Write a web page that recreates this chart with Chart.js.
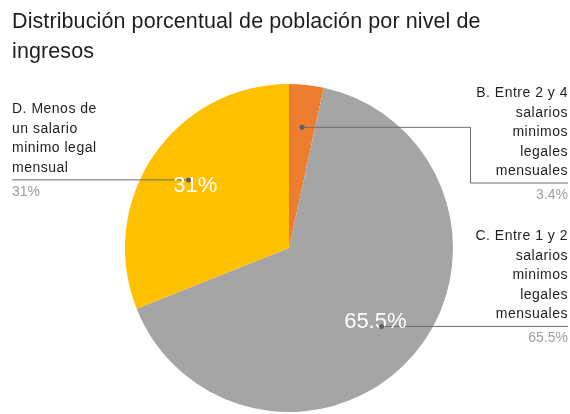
<!DOCTYPE html>
<html>
<head>
<meta charset="utf-8">
<script src="https://cdn.jsdelivr.net/npm/chart.js@4.4.1/dist/chart.umd.min.js"></script>
<style>
  html, body { margin: 0; padding: 0; background: #fff; }
  #wrap { width: 570px; height: 414px; }
</style>
</head>
<body>
<div id="wrap"><canvas id="myChart" width="570" height="414"></canvas></div>
<script>
const titleLines = ['Distribución porcentual de población por nivel de', 'ingresos'];
const categories = [
  ['B. Entre 2 y 4', 'salarios', 'minimos', 'legales', 'mensuales'],
  ['C. Entre 1 y 2', 'salarios', 'minimos', 'legales', 'mensuales'],
  ['D. Menos de', 'un salario', 'minimo legal', 'mensual']
];
const values = [3.4, 65.5, 31];
const valueLabels = ['3.4%', '65.5%', '31%'];
const colors = ['rgb(237, 125, 49)', 'rgb(165, 165, 165)', 'rgb(255, 192, 0)'];

const FONT = '"Liberation Sans", Arial, sans-serif';

// title, slice labels and leader lines
const labelsPlugin = {
  id: 'labels',
  afterDraw(chart) {
    const c = chart.ctx;
    c.save();
    c.fillStyle = '#1e1e1e';
    c.font = '21.5px ' + FONT;
    c.letterSpacing = '0.1px';
    c.textAlign = 'left';
    c.textBaseline = 'alphabetic';
    c.fillText(titleLines[0], 12, 28);
    c.fillText(titleLines[1], 12, 58);

    const meta = chart.getDatasetMeta(0);
    const lineH = 19.5;
    meta.data.forEach((arc, i) => {
      const p = arc.getProps(['x', 'y', 'startAngle', 'endAngle', 'outerRadius']);
      const mid = (p.startAngle + p.endAngle) / 2;
      const r = p.outerRadius;
      const dx = p.x + Math.cos(mid) * r * 0.74;
      const dy = p.y + Math.sin(mid) * r * 0.74;
      const lines = categories[i];
      const right = Math.cos(mid) > 0;
      const leaderY = Math.max(dy, 97 + (lines.length - 1) * lineH + 8);
      const firstBase = leaderY - 8 - (lines.length - 1) * lineH;

      // leader
      c.strokeStyle = '#6e6e6e';
      c.lineWidth = 1;
      c.beginPath();
      if (right) {
        c.moveTo(dx, dy);
        if (Math.abs(leaderY - dy) > 1) {
          c.lineTo(470.5, dy);
          c.lineTo(470.5, leaderY);
        }
        c.lineTo(568, leaderY);
      } else {
        c.moveTo(12, leaderY);
        c.lineTo(dx, dy);
      }
      c.stroke();

      // in-slice value
      if (values[i] > 10) {
        c.fillStyle = '#fff';
        c.font = '22px ' + FONT;
        c.letterSpacing = '0px';
        c.textAlign = 'center';
        c.textBaseline = 'middle';
        c.fillText(valueLabels[i], p.x + Math.cos(mid) * r * 0.69, p.y + Math.sin(mid) * r * 0.69 + 1);
      }

      c.fillStyle = '#5e5e5e';
      c.beginPath();
      c.arc(dx, dy, 2.5, 0, Math.PI * 2);
      c.fill();

      // outside label
      c.textBaseline = 'alphabetic';
      c.textAlign = right ? 'right' : 'left';
      const tx = right ? 568 : 12;
      c.font = '14px ' + FONT;
      c.letterSpacing = '0.5px';
      c.fillStyle = '#1e1e1e';
      lines.forEach((t, k) => c.fillText(t, tx, firstBase + k * lineH));
      c.fillStyle = '#9e9e9e';
      c.letterSpacing = '0px';
      c.fillText(valueLabels[i], tx, leaderY + 16);
    });
    c.restore();
  }
};

new Chart(document.getElementById('myChart'), {
  type: 'pie',
  data: {
    labels: categories.map(l => l.join(' ')),
    datasets: [{
      data: values,
      backgroundColor: colors,
      borderWidth: 0
    }]
  },
  options: {
    responsive: false,
    animation: false,
    layout: { padding: { top: 84, bottom: 2, left: 125, right: 117 } },
    plugins: {
      legend: { display: false },
      tooltip: { enabled: false },
      title: { display: false }
    }
  },
  plugins: [labelsPlugin]
});
</script>
</body>
</html>
